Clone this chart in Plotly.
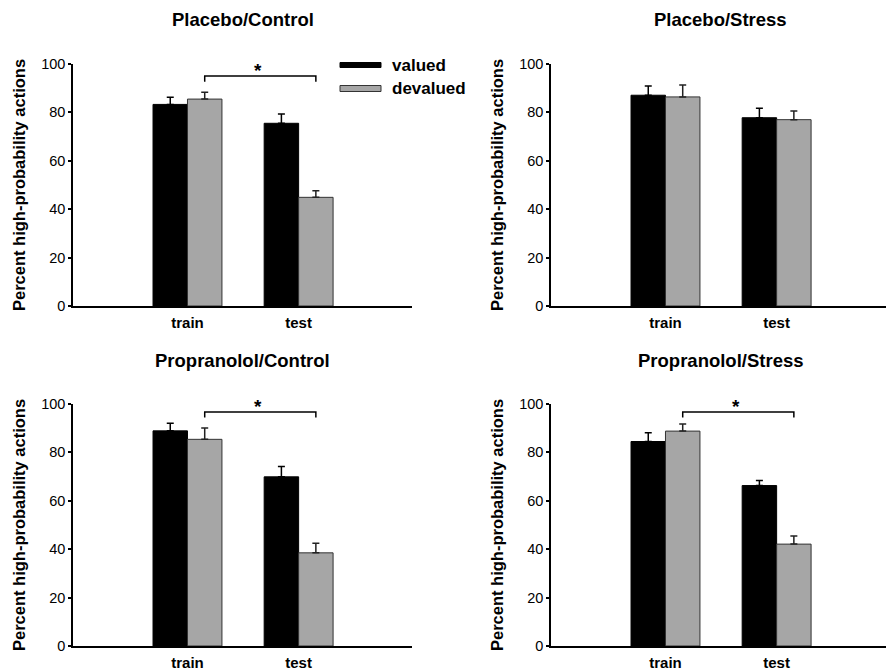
import plotly.graph_objects as go
from plotly.subplots import make_subplots

# ---- data ----
panel_titles = ["Placebo/Control", "Placebo/Stress", "Propranolol/Control", "Propranolol/Stress"]
phases = ["train", "test"]
series_names = ["valued", "devalued"]

pc_valued = [83.3, 75.5]
pc_valued_err = [3.0, 3.8]
pc_devalued = [85.5, 44.9]
pc_devalued_err = [2.8, 2.7]

ps_valued = [87.1, 77.8]
ps_valued_err = [3.8, 3.9]
ps_devalued = [86.4, 77.0]
ps_devalued_err = [4.9, 3.6]

prc_valued = [88.9, 69.9]
prc_valued_err = [3.1, 4.3]
prc_devalued = [85.4, 38.5]
prc_devalued_err = [4.7, 4.0]

prs_valued = [84.5, 66.3]
prs_valued_err = [3.6, 2.1]
prs_devalued = [88.8, 42.1]
prs_devalued_err = [2.9, 3.4]

# significance bracket level (y value) per panel; None = no bracket
sig_level = [95.0, None, 96.7, 96.7]

y_ticks = [0, 20, 40, 60, 80, 100]
y_title = "Percent high-probability actions"

panels = [
    (pc_valued, pc_valued_err, pc_devalued, pc_devalued_err),
    (ps_valued, ps_valued_err, ps_devalued, ps_devalued_err),
    (prc_valued, prc_valued_err, prc_devalued, prc_devalued_err),
    (prs_valued, prs_valued_err, prs_devalued, prs_devalued_err),
]

# ---- figure ----
W, H = 894, 669
OFF = 8  # page body margin offset


def px(x):
    return (x - OFF) / W


def py(y):
    return 1 - (y - OFF) / H


FONT = "Liberation Sans, Arial, sans-serif"
BLACK = "#000000"
GREY = "#a6a6a6"

fig = make_subplots(rows=2, cols=2)

x_pos = list(range(len(phases)))
bargap = 0.38
bar_w = (1 - bargap) / 2

x_domains = [[px(73), px(412)], [px(551), px(890)]]
y_domains = [[py(306), py(64)], [py(646), py(404)]]

for i, (v, ve, d, de) in enumerate(panels):
    r, c = i // 2 + 1, i % 2 + 1
    fig.add_trace(go.Bar(
        x=x_pos, y=v, name=series_names[0], showlegend=False,
        marker=dict(color=BLACK, line=dict(color=BLACK, width=1)),
        error_y=dict(type="data", symmetric=False, array=ve, arrayminus=[0] * len(ve),
                     color=BLACK, thickness=1.5, width=3.5),
    ), row=r, col=c)
    fig.add_trace(go.Bar(
        x=x_pos, y=d, name=series_names[1], showlegend=False,
        marker=dict(color=GREY, line=dict(color="#333333", width=1)),
        error_y=dict(type="data", symmetric=False, array=de, arrayminus=[0] * len(de),
                     color="#222222", thickness=1.5, width=3.5),
    ), row=r, col=c)

    xa = "xaxis" if i == 0 else f"xaxis{i+1}"
    ya = "yaxis" if i == 0 else f"yaxis{i+1}"
    xref = "x" if i == 0 else f"x{i+1}"
    yref = "y" if i == 0 else f"y{i+1}"
    fig.layout[xa].update(
        domain=x_domains[c - 1], range=[-1.03, 2.02], automargin=False,
        tickvals=x_pos, ticktext=[f"<b>{p}</b>" for p in phases],
        tickfont=dict(family=FONT, size=15, color=BLACK),
        showline=True, linecolor=BLACK, linewidth=1.5, ticks="",
        ticklabelstandoff=2, showgrid=False, zeroline=False, fixedrange=True,
    )
    fig.layout[ya].update(
        domain=y_domains[r - 1], range=[0, 100], automargin=False,
        tickvals=y_ticks, tickfont=dict(family=FONT, size=14.5, color=BLACK),
        showline=True, linecolor=BLACK, linewidth=1.5, ticks="outside",
        ticklen=3, tickwidth=1.5, tickcolor=BLACK,
        showgrid=False, zeroline=False, fixedrange=True,
    )

    # panel title
    xd = x_domains[c - 1]
    yd = y_domains[r - 1]
    fig.add_annotation(
        text=f"<b>{panel_titles[i]}</b>", xref="paper", yref="paper",
        x=(xd[0] + xd[1]) / 2, y=yd[1] + 44 / H, xanchor="center", yanchor="middle",
        showarrow=False, font=dict(family=FONT, size=18.5, color=BLACK),
    )
    # y axis title
    fig.add_annotation(
        text=f"<b>{y_title}</b>", xref="paper", yref="paper",
        x=xd[0] - 54 / W, y=(yd[0] + yd[1]) / 2, xanchor="center", yanchor="middle",
        textangle=-90, showarrow=False, font=dict(family=FONT, size=16.5, color=BLACK),
    )

    # significance bracket between devalued train and devalued test
    lvl = sig_level[i]
    if lvl is not None:
        x0 = x_pos[0] + bar_w / 2
        x1 = x_pos[1] + bar_w / 2
        fig.add_trace(go.Scatter(
            x=[x0, x0, x1, x1], y=[lvl - 2.3, lvl, lvl, lvl - 2.3],
            mode="lines", line=dict(color=BLACK, width=1.5),
            showlegend=False, hoverinfo="skip", cliponaxis=False,
        ), row=r, col=c)
        fig.add_annotation(
            text="<b>*</b>", xref=xref, yref=yref, x=(x0 + x1) / 2 - 0.02, y=lvl - 2.8,
            xanchor="center", yanchor="bottom", showarrow=False,
            font=dict(family=FONT, size=19, color=BLACK),
        )

# manual legend (wide swatches, as in reference)
legend_rows = [(65, BLACK, BLACK, 5), (88.5, GREY, "#333333", 6)]
for (yy, fill, edge, hpx), name in zip(legend_rows, series_names):
    fig.add_shape(type="rect", xref="paper", yref="paper",
                  x0=px(340), x1=px(381), y0=py(yy + hpx / 2), y1=py(yy - hpx / 2),
                  fillcolor=fill, line=dict(color=edge, width=1))
    fig.add_annotation(text=f"<b>{name}</b>", xref="paper", yref="paper",
                       x=px(390), y=py(yy), xanchor="left", yanchor="middle",
                       showarrow=False, font=dict(family=FONT, size=17, color=BLACK))

fig.update_layout(
    width=W, height=H, barmode="group", bargap=bargap, bargroupgap=0,
    margin=dict(l=0, r=0, t=0, b=0, autoexpand=False),
    paper_bgcolor="white", plot_bgcolor="white",
    font=dict(family=FONT, color=BLACK),
    showlegend=False,
)

fig.write_html("out.html", config={"displayModeBar": False})
